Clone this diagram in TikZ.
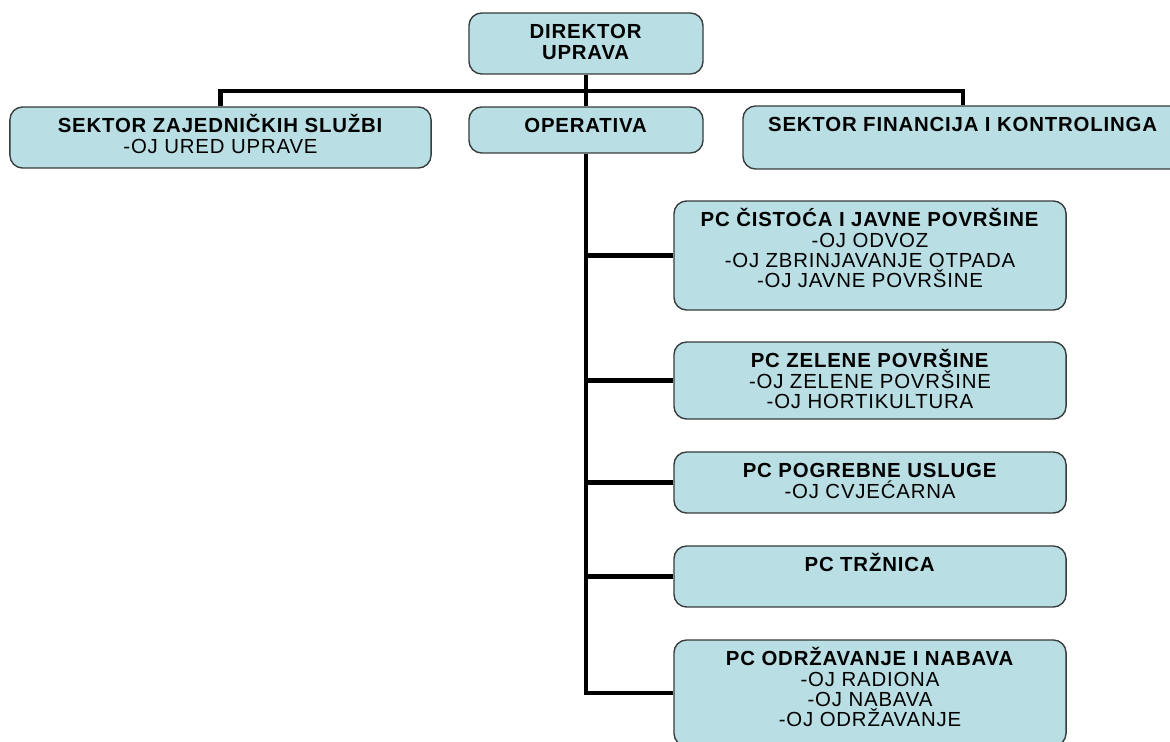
\documentclass[tikz,border=0pt]{standalone}
\usepackage{fontspec}
\setmainfont{Liberation Sans}
\usetikzlibrary{positioning}
\definecolor{boxfill}{RGB}{185,223,228}
\definecolor{boxline}{RGB}{55,60,60}

\begin{document}
\begin{tikzpicture}[x=0.025cm,y=-0.025cm,
  unit/.style={draw=boxline, fill=boxfill, line width=1pt, rounded corners=9pt, inner sep=0pt},
  unittext/.style={align=center, inner sep=0pt, font=\fontsize{14.5}{14.4}\selectfont\addfontfeature{LetterSpace=4}},
  link/.style={line width=2.9pt}]
\clip (0,0) rectangle (1170,742);
%top level
\node[unit, minimum width=5.85cm, minimum height=1.525cm] (dir) at (586,43.5) {};
\node[unittext, below=5.2pt of dir.north] (dirtxt) {\rule{0pt}{13.5pt}\textbf{DIREKTOR}\\\textbf{UPRAVA}};
%sectors under the director
\node[unit, minimum width=10.525cm, minimum height=1.525cm] (szs) at (220.5,137.5) {};
\node[unittext, below=5.2pt of szs.north] (szstxt) {\rule{0pt}{13.5pt}\textbf{SEKTOR ZAJEDNIČKIH SLUŽBI}\\-OJ URED UPRAVE};
\node[unit, minimum width=5.85cm, minimum height=1.15cm] (ops) at (586,130) {};
\node[unittext, below=5.2pt of ops.north] (opstxt) {\rule{0pt}{13.5pt}\textbf{OPERATIVA}};
\node[unit, minimum width=11cm, minimum height=1.575cm] (sfk) at (963,137.5) {};
\node[unittext, below=5.2pt of sfk.north] (sfktxt) {\rule{0pt}{13.5pt}\textbf{SEKTOR FINANCIJA I KONTROLINGA}};
%profit centres of the operativa
\node[unit, minimum width=9.8cm, minimum height=2.725cm] (cis) at (870,255.5) {};
\node[unittext, below=5.2pt of cis.north] (cistxt) {\rule{0pt}{13.5pt}\textbf{PC ČISTOĆA I JAVNE POVRŠINE}\\-OJ ODVOZ\\-OJ ZBRINJAVANJE OTPADA\\-OJ JAVNE POVRŠINE};
\node[unit, minimum width=9.8cm, minimum height=1.925cm] (zel) at (870,380.5) {};
\node[unittext, below=5.2pt of zel.north] (zeltxt) {\rule{0pt}{13.5pt}\textbf{PC ZELENE POVRŠINE}\\-OJ ZELENE POVRŠINE\\-OJ HORTIKULTURA};
\node[unit, minimum width=9.8cm, minimum height=1.525cm] (pog) at (870,482.5) {};
\node[unittext, below=5.2pt of pog.north] (pogtxt) {\rule{0pt}{13.5pt}\textbf{PC POGREBNE USLUGE}\\-OJ CVJEĆARNA};
\node[unit, minimum width=9.8cm, minimum height=1.525cm] (trz) at (870,576.5) {};
\node[unittext, below=5.2pt of trz.north] (trztxt) {\rule{0pt}{13.5pt}\textbf{PC TRŽNICA}};
\node[unit, minimum width=9.8cm, minimum height=2.65cm] (odr) at (870,693) {};
\node[unittext, below=5.2pt of odr.north] (odrtxt) {\rule{0pt}{13.5pt}\textbf{PC ODRŽAVANJE I NABAVA}\\-OJ RADIONA\\-OJ NABAVA\\-OJ ODRŽAVANJE};
%connectors
\coordinate (bus) at (586,91);
\draw[link] (dir.south) -- (ops.north);
\draw[link] (szs.north) |- (bus) -| (sfk.north);
\draw[link] (ops.south) |- (odr.west);
\draw[link] (ops.south |- cis.west) -- (cis.west);
\draw[link] (ops.south |- zel.west) -- (zel.west);
\draw[link] (ops.south |- pog.west) -- (pog.west);
\draw[link] (ops.south |- trz.west) -- (trz.west);
\end{tikzpicture}
\end{document}
